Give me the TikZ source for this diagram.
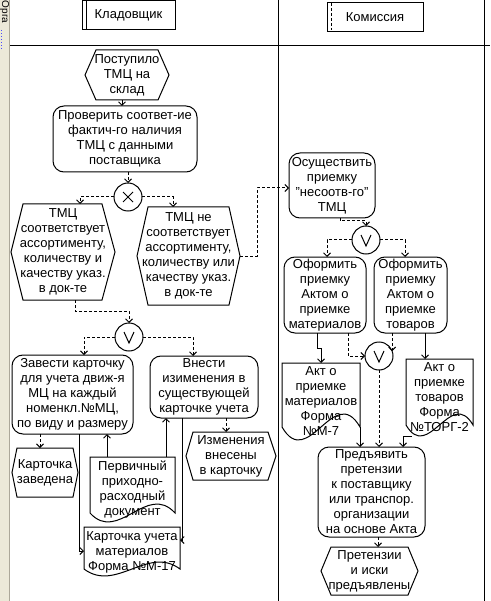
\documentclass[tikz,border=0pt]{standalone}
\usepackage{fontspec}
\setmainfont{Liberation Sans}
\usetikzlibrary{arrows.meta,calc}
\definecolor{stripcol}{HTML}{ECE9D8}
\definecolor{stripline}{HTML}{ACA899}
\begin{document}
\begin{tikzpicture}[x=1pt,y=-1pt,
  every node/.style={font=\fontsize{13}{15}\selectfont, align=center, inner sep=0pt, outer sep=0pt},
  sz/.style 2 args={minimum width=#1pt, minimum height=#2pt},
  ln/.style={line width=1pt, black},
  flow/.style={ln, dash pattern=on 3pt off 2pt, -{Straight Barb[length=3.5pt,width=7pt]}},
  sflow/.style={ln, -{Straight Barb[length=3.5pt,width=7pt]}},
  outl/.style={ln, line join=miter},
  rbox/.style={ln, draw, rounded corners=11pt},
  gate/.style={ln, draw, circle, minimum size=28pt},
]
\useasboundingbox (0,0) rectangle (490,601);
\fill[white] (0,0) rectangle (490,601);
% left strip
\fill[stripcol] (0,0) rectangle (9,601);
\draw[stripline, line width=1pt] (9.5,0) -- (9.5,601);
\node[rotate=-90, anchor=west, font=\fontsize{10}{11}\selectfont] (orga) at (4.5,1) {Орга};
\draw[blue!70, dotted, line width=1pt] (1.5,30) -- (1.5,50);
% lanes
\draw[ln] (10,46) -- (490,46);
\draw[ln] (278,0) -- (278,601);
\draw[ln] (484,0) -- (484,601);
% headers
\node[ln, draw, sz={93}{29}] (hdrA) at (128.5,15.5) {Кладовщик};
\draw[ln] ($(hdrA.north west)+(4,0)$) -- ($(hdrA.south west)+(4,0)$);
\node[ln, draw, sz={96}{29}] (hdrB) at (375,17.5) {Комиссия};
\draw[ln, dash pattern=on 3pt off 2pt] ($(hdrB.north west)+(4,0)$) -- ($(hdrB.south west)+(4,-2)$);

% ---------- left lane ----------
\node[sz={84}{50}] (start) at (127,75) {Поступило\\ТМЦ на\\склад};
\draw[outl] (85,75) -- (96,50) -- (158,50) -- (169,75) -- (158,100) -- (96,100) -- cycle;

\node[rbox, sz={144}{66}] (check) at (125,139) {Проверить соответ-ие\\фактич-го наличия\\ТМЦ с данными\\поставщика};

\node[gate] (xor) at (128,197) {};
\draw[ln] ($(xor)+(-5,-5)$) -- ($(xor)+(5,5)$);
\draw[ln] ($(xor)+(-5,5)$) -- ($(xor)+(5,-5)$);

\node[sz={104}{96}] (hex4) at (63,252) {ТМЦ\\соответствует\\ассортименту,\\количеству и\\качеству указ.\\в док-те};
\draw[outl] (11,252) -- (23,204) -- (102,204) -- (115,252) -- (102,300) -- (23,300) -- cycle;

\node[sz={103}{98}] (hex5) at (188.5,256) {ТМЦ не\\соответствует\\ассортименту,\\количеству или\\качеству указ.\\в док-те};
\draw[outl] (137,256) -- (148,207) -- (229,207) -- (240,256) -- (229,305) -- (148,305) -- cycle;

\node[gate] (or1) at (129,337) {};
\draw[ln] ($(or1)+(-5,-5)$) -- ($(or1)+(0,6)$) -- ($(or1)+(5,-5)$);

\node[rbox, sz={121}{79}] (card) at (72.5,394.5) {Завести карточку\\для учета движ-я\\МЦ на каждый\\номенкл.№МЦ,\\по виду и размеру};
\node[rbox, sz={108}{62}] (edit) at (204,387) {Внести\\изименения в\\существующей\\карточке учета};

\node[sz={66}{49}] (cardok) at (45,472.5) {Карточка\\заведена};
\draw[outl] (12,472.5) -- (17,448) -- (73,448) -- (78,472.5) -- (73,497) -- (17,497) -- cycle;

\node[sz={85}{65}] (prim) at (132.5,489.5) {Первичный\\приходно-\\расходный\\документ};
\draw[outl] (90,513) -- (90,457) -- (175,457) -- (175,513) .. controls (146.7,482) and (118.3,544) .. (90,513);

\node[sz={96}{50}] (form17) at (132,552) {Карточка учета\\материалов\\Форма №М-17};
\draw[outl] (84,569) -- (84,527) -- (180,527) -- (180,569) .. controls (148,545) and (116,593) .. (84,569);

\node[sz={90}{48}] (chg) at (231,456) {Изменения\\внесены\\в карточку};
\draw[outl] (186,456) -- (193,432) -- (268,432) -- (276,456) -- (268,480) -- (193,480) -- cycle;

% ---------- right lane ----------
\node[rbox, sz={86}{65}] (act) at (332,185.5) {Осуществить\\приемку\\"несоотв-го"\\ТМЦ};

\node[gate] (or2) at (366,240) {};
\draw[ln] ($(or2)+(-5,-5)$) -- ($(or2)+(0,6)$) -- ($(or2)+(5,-5)$);

\node[rbox, sz={82}{76}] (om) at (325,295) {Оформить\\приемку\\Актом о\\приемке\\материалов};
\node[rbox, sz={73}{76}] (ot) at (410.5,295) {Оформить\\приемку\\Актом о\\приемке\\товаров};

\node[gate] (or3) at (379,356) {};
\draw[ln] ($(or3)+(-5,-5)$) -- ($(or3)+(0,6)$) -- ($(or3)+(5,-5)$);

\node[sz={78}{77}] (doc18) at (321,401.5) {Акт о\\приемке\\материалов\\Форма\\№М-7};
\draw[outl] (282,427) -- (282,363) -- (360,363) -- (360,427) .. controls (334,382) and (308,472) .. (282,427);

\node[sz={67}{77}] (doc19) at (439.5,397.5) {Акт о\\приемке\\товаров\\Форма\\№ТОРГ-2};
\draw[outl] (406,425) -- (406,359) -- (473,359) -- (473,425) .. controls (450.7,387) and (428.3,463) .. (406,425);

\node[rbox, sz={107}{90}] (claim) at (371.5,492) {Предъявить\\претензии\\к поставщику\\или транспор.\\организации\\на основе Акта};

\node[sz={97}{48}] (res) at (369.5,571) {Претензии\\и иски\\предъявлены};
\draw[outl] (321,571) -- (331,547) -- (408,547) -- (418,571) -- (408,595) -- (331,595) -- cycle;

% ---------- connectors ----------
\draw[sflow] ($(start.south)+(-5,0)$) -- ($(check.north)+(-3,0)$);
\draw[flow] (check.south -| xor.north) -- (xor.north);
\draw[flow] (xor.west) -| ($(hex4.north)+(17,0)$);
\draw[flow] (xor.east) -| ($(hex5.north)+(-15.5,0)$);
\draw[flow] ($(hex4.south)+(12,0)$) -- ++(0,11) -| (or1.north);
\draw[flow] (hex5.east) -- ++(17,0) |- ($(act.west)+(0,2.5)$);
\draw[flow] (or1.west) -| ($(card.north)+(11.5,0)$);
\draw[flow] (or1.east) -| ($(edit.north)+(-11,0)$);
\draw[flow] ($(card.south)+(-32.5,0)$) -- ($(cardok.north)+(-5,0)$);
\draw[sflow] ($(card.south)+(6.5,0)$) |- ($(form17.west)+(0,-1)$);
\path ($(prim.north)+(-25.5,0)$) coordinate (p11);
\draw[sflow] (p11) -- (p11 |- card.south);
\path ($(prim.north)+(33.5,0)$) coordinate (p12);
\draw[sflow] (p12) -- (p12 |- edit.south);
\path ($(edit.south)+(-22,0)$) coordinate (p13);
\draw[sflow] (p13) |- ($(form17.east)+(0,-12)$);
\draw[flow] ($(edit.south)+(22,0)$) -- ($(chg.north)+(-5,0)$);

\draw[flow] ($(act.south)+(8,0)$) -- ++(0,3) -| (or2.north);
\draw[flow] (or2.west) -| ($(om.north)+(2,0)$);
\draw[flow] (or2.east) -| ($(ot.north)+(-5.5,0)$);
\draw[flow] ($(om.south)+(23,0)$) |- (or3.west);
\draw[flow] (or3.20 |- ot.south) -- (or3.20);
\draw[flow] (or3.south) -- (or3.south |- claim.north);
\draw[sflow] ($(om.south)+(-8,0)$) -- ++(0,15) -| (doc18.north);
\path ($(doc19.north)+(-14.5,0)$) coordinate (p22);
\draw[sflow] (p22 |- ot.south) -- (p22);
\path ($(doc18.east)+(0,25.5)$) coordinate (p23);
\draw[sflow] (p23) -- (p23 |- claim.north);
\path ($(doc19.south west)+(6,0)$) coordinate (p24);
\draw[sflow] (p24) -| ($(claim.north)+(31.5,0)$);
\draw[flow] ($(claim.south)+(6.5,0)$) -- ($(res.north)+(8.5,0)$);
\end{tikzpicture}
\end{document}
